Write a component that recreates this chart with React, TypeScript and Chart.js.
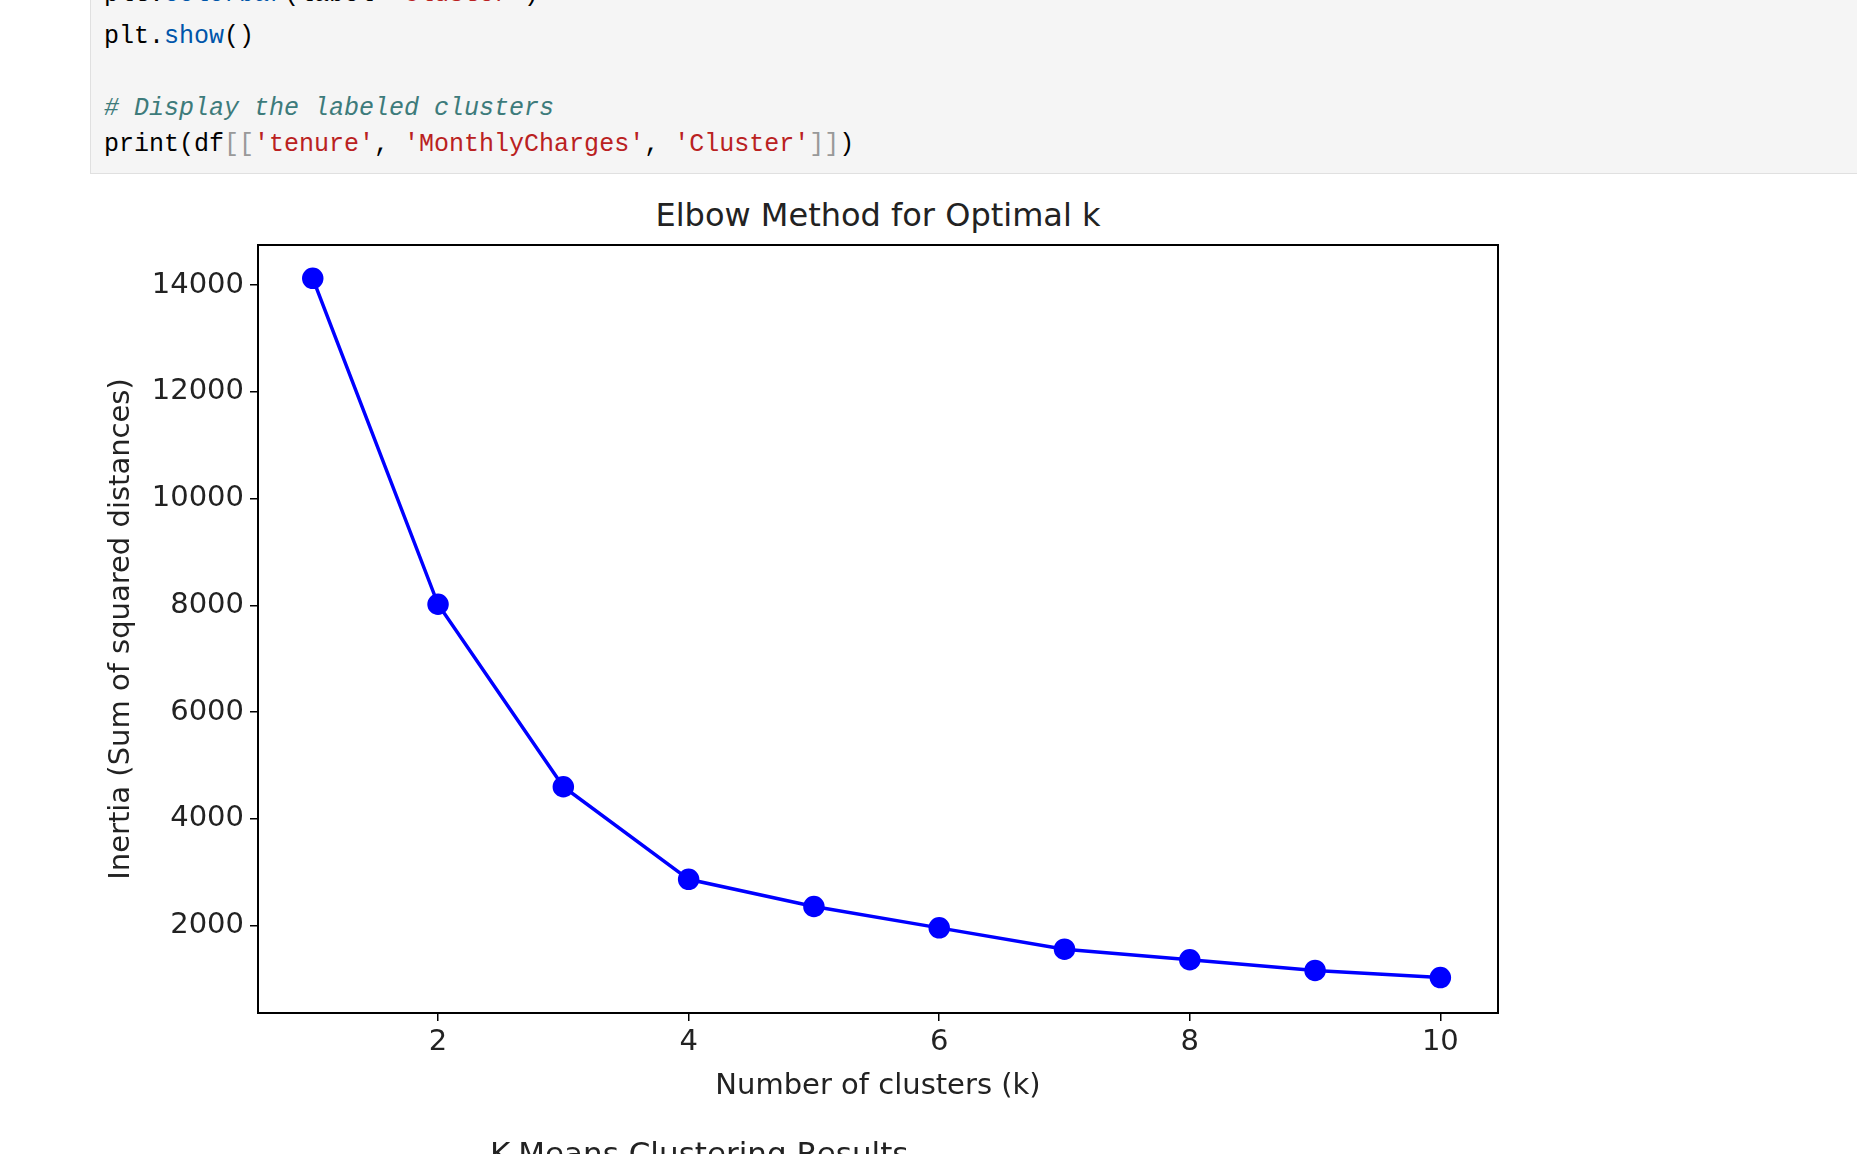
import React, { useEffect, useRef } from 'react';
import { Chart, registerables } from 'chart.js';

Chart.register(...registerables);

const clusterCounts = [1, 2, 3, 4, 5, 6, 7, 8, 9, 10];
const inertiaValues = [14130, 8020, 4600, 2865, 2355, 1955, 1556, 1357, 1157, 1023];
const xTicks = [2, 4, 6, 8, 10];
const yTicks = [2000, 4000, 6000, 8000, 10000, 12000, 14000];

const mono = '"Liberation Mono", "DejaVu Sans Mono", monospace';
const sans = '"DejaVu Sans", sans-serif';

const framePlugin = {
  id: 'frame',
  afterDraw(chart: Chart) {
    const { ctx, chartArea: a } = chart;
    ctx.save();
    ctx.strokeStyle = '#000';
    ctx.lineWidth = 2;
    ctx.strokeRect(a.left, a.top, a.right - a.left, a.bottom - a.top);
    ctx.restore();
  },
};

const ElbowChart: React.FC = () => {
  const ref = useRef<HTMLCanvasElement | null>(null);

  useEffect(() => {
    if (!ref.current) return;
    const chart = new Chart(ref.current, {
      type: 'line',
      data: {
        datasets: [{
          data: clusterCounts.map((k, i) => ({ x: k, y: inertiaValues[i] })),
          borderColor: '#0000ff',
          backgroundColor: '#0000ff',
          borderWidth: 3.5,
          pointRadius: 9,
          pointHoverRadius: 9,
          tension: 0,
        }],
      },
      options: {
        animation: false,
        responsive: false,
        layout: { padding: { left: 100, right: 359, top: 65, bottom: 46 } },
        plugins: {
          legend: { display: false },
          tooltip: { enabled: false },
          title: { display: false },
        },
        scales: {
          x: {
            type: 'linear',
            min: 0.563,
            max: 10.46,
            afterBuildTicks: (s: any) => { s.ticks = xTicks.map(v => ({ value: v })); },
            afterFit: (s: any) => { s.height = 95; },
            grid: { drawOnChartArea: false, drawTicks: true, tickLength: 8, color: '#000', lineWidth: 1.5 },
            border: { display: false },
            ticks: { color: '#222', font: { family: sans, size: 29 }, padding: 4, callback: (v: any) => String(v) },
            title: { display: true, text: 'Number of clusters (k)', color: '#222', font: { family: sans, size: 29 }, padding: { top: 6 } },
          },
          y: {
            type: 'linear',
            min: 359,
            max: 14754,
            afterBuildTicks: (s: any) => { s.ticks = yTicks.map(v => ({ value: v })); },
            afterFit: (s: any) => { s.width = 158; },
            grid: { drawOnChartArea: false, drawTicks: true, tickLength: 8, color: '#000', lineWidth: 1.5 },
            border: { display: false },
            ticks: { color: '#222', font: { family: sans, size: 29 }, padding: 6, callback: (v: any) => String(v) },
            title: { display: true, text: 'Inertia (Sum of squared distances)', color: '#222', font: { family: sans, size: 29 }, padding: { bottom: 0 } },
          },
        },
      },
      plugins: [framePlugin],
    } as any);
    return () => chart.destroy();
  }, []);

  return <canvas ref={ref} width={1857} height={974} style={{ position: 'absolute', left: 0, top: 180, width: 1857, height: 974 }} />;
};

const line = (top: number, children: React.ReactNode) => (
  <div style={{ position: 'absolute', left: 104, top, fontFamily: mono, fontSize: 25, whiteSpace: 'pre', color: '#000' }}>{children}</div>
);

export default function App() {
  return (
    <div style={{ position: 'fixed', left: 0, top: 0, width: 1857, height: 1154, overflow: 'hidden', background: '#fff' }}>
      <div style={{ position: 'absolute', left: 90, top: -10, width: 1800, height: 183, background: '#f5f5f5', borderBottom: '1px solid #e0e0e0', borderLeft: '1px solid #e0e0e0' }} />
      {line(-20, <>plt.<span style={{ color: '#0055aa' }}>colorbar</span>(label<span style={{ color: '#aa22ff' }}>=</span><span style={{ color: '#ba2121' }}>'Cluster'</span>)</>)}
      {line(22, <>plt.<span style={{ color: '#0055aa' }}>show</span>()</>)}
      {line(94, <span style={{ color: '#3d7b7b', fontStyle: 'italic' }}># Display the labeled clusters</span>)}
      {line(130, <>print(df<span style={{ color: '#999' }}>[[</span><span style={{ color: '#ba2121' }}>'tenure'</span>, <span style={{ color: '#ba2121' }}>'MonthlyCharges'</span>, <span style={{ color: '#ba2121' }}>'Cluster'</span><span style={{ color: '#999' }}>]]</span>)</>)}
      <div style={{ position: 'absolute', left: 0, width: 1756, top: 196, textAlign: 'center', fontFamily: sans, fontSize: 32, color: '#222' }}>Elbow Method for Optimal k</div>
      <ElbowChart />
      <div style={{ position: 'absolute', left: 490, top: 1135, fontFamily: sans, fontSize: 31, color: '#222' }}>K-Means Clustering Results</div>
    </div>
  );
}
